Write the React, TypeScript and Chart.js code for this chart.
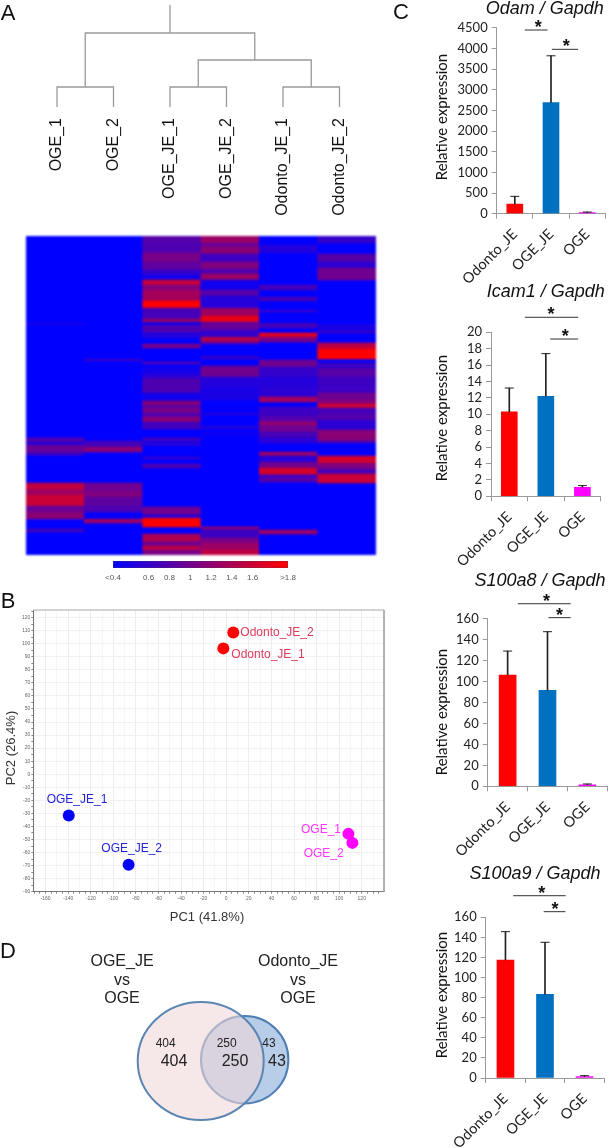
import React, { useEffect, useRef } from "react";
import { Chart, registerables } from "chart.js";

Chart.register(...registerables);

/* ---------- data ---------- */
const sampleNames = ["OGE_1", "OGE_2", "OGE_JE_1", "OGE_JE_2", "Odonto_JE_1", "Odonto_JE_2"];
const leafPositions = [1, 2, 3, 4, 5, 6];
const dendroBranches = [
  [[1, 0], [1, 20], [2, 20], [2, 0]],
  [[3, 0], [3, 20], [4, 20], [4, 0]],
  [[5, 0], [5, 20], [6, 20], [6, 0]],
  [[3.5, 20], [3.5, 47], [5.5, 47], [5.5, 20]],
  [[1.5, 20], [1.5, 74], [4.5, 74], [4.5, 47]],
  [[3, 74], [3, 102]],
];

// each stripe: [first row, last row, expression]
const stripesOGE1 = [[0, 319, 0.4], [87, 88, 0.6], [202, 206, 0.9], [206, 209, 0.6], [209, 216, 1.0], [216, 219, 0.8], [247, 254, 1.5], [254, 259, 1.3], [259, 270, 1.55], [270, 276, 1.0], [276, 283, 1.2], [293, 296, 0.8]];
const stripesOGE2 = [[0, 319, 0.4], [123, 125, 0.7], [205, 211, 0.8], [211, 216, 1.2], [247, 256, 1.05], [256, 261, 1.15], [261, 270, 0.95], [270, 276, 0.85], [283, 287, 1.3]];
const stripesOGEJE1 = [[0, 319, 0.4], [0, 6, 0.9], [6, 17, 0.85], [17, 26, 1.1], [26, 34, 0.95], [34, 39, 0.7], [39, 44, 0.5], [44, 49, 1.55], [49, 54, 1.15], [54, 65, 1.35], [65, 72, 1.8], [72, 83, 0.8], [83, 86, 1.3], [89, 97, 0.85], [99, 101, 0.7], [108, 112, 1.1], [126, 128, 0.9], [131, 137, 0.5], [137, 142, 0.6], [142, 157, 0.85], [157, 165, 0.5], [165, 169, 1.2], [169, 172, 0.9], [172, 177, 1.1], [177, 181, 0.85], [181, 186, 1.2], [187, 193, 0.8], [202, 205, 0.8], [207, 209, 0.7], [221, 223, 0.7], [228, 232, 0.85], [271, 279, 1.05], [279, 282, 0.5], [282, 291, 1.8], [298, 306, 1.4], [306, 310, 1.0], [310, 314, 1.5], [314, 319, 1.1]];
const stripesOGEJE2 = [[0, 319, 0.4], [0, 7, 1.3], [7, 11, 1.0], [11, 18, 1.2], [18, 26, 0.75], [26, 33, 1.15], [33, 38, 0.85], [38, 44, 1.3], [44, 54, 0.5], [54, 60, 0.9], [60, 71, 0.6], [72, 80, 1.3], [80, 86, 1.7], [87, 94, 1.0], [94, 100, 0.7], [101, 106, 1.45], [106, 108, 0.9], [120, 123, 0.7], [130, 141, 1.05], [141, 151, 0.6], [151, 164, 0.55], [177, 179, 0.6], [190, 193, 0.6], [197, 199, 0.5], [291, 293, 1.4], [293, 302, 0.75], [302, 307, 1.1], [307, 314, 1.3], [314, 319, 1.5]];
const stripesOdonto1 = [[0, 319, 0.4], [9, 17, 0.6], [49, 54, 0.8], [61, 65, 0.8], [74, 76, 0.7], [87, 92, 0.8], [97, 101, 1.7], [101, 106, 1.1], [124, 131, 1.05], [131, 141, 0.7], [141, 151, 0.6], [151, 161, 0.65], [161, 166, 1.35], [171, 181, 0.75], [181, 186, 0.9], [186, 189, 1.3], [189, 196, 1.05], [196, 202, 0.8], [202, 207, 0.65], [216, 220, 1.3], [220, 226, 0.6], [226, 232, 1.05], [232, 239, 1.6], [239, 241, 0.6], [241, 246, 0.9], [294, 298, 1.3]];
const stripesOdonto2 = [[0, 319, 0.4], [0, 7, 0.7], [18, 26, 0.9], [26, 32, 0.65], [32, 44, 1.05], [89, 92, 0.6], [94, 97, 0.7], [107, 113, 1.5], [113, 123, 1.85], [127, 131, 0.75], [132, 141, 0.9], [141, 157, 0.75], [157, 164, 1.05], [164, 168, 1.15], [168, 172, 1.6], [172, 179, 0.8], [179, 184, 0.9], [184, 194, 0.65], [194, 205, 1.2], [205, 207, 0.8], [220, 227, 1.6], [227, 233, 1.15], [233, 238, 0.8], [238, 247, 1.55]];
const heatmapColumns = [stripesOGE1, stripesOGE2, stripesOGEJE1, stripesOGEJE2, stripesOdonto1, stripesOdonto2];

const legendTickValues = [0.257, 0.6, 0.8, 1, 1.2, 1.4, 1.6, 1.94];
const legendTickLabels = ["<0.4", "0.6", "0.8", "1", "1.2", "1.4", "1.6", ">1.8"];

const pcaRed = [{ x: -2.6, y: 96.4 }, { x: 6.2, y: 108.6 }];
const pcaBlue = [{ x: -139.5, y: -31.7 }, { x: -86.5, y: -69.4 }];
const pcaMagenta = [{ x: 108.2, y: -45.7 }, { x: 111.7, y: -52.6 }];

const vennOnlyA = 404;
const vennBoth = 250;
const vennOnlyB = 43;

const barCategories = ["Odonto_JE", "OGE_JE", "OGE"];
const odamMeans = [230, 2690, 30];
const odamUpper = [420, 3820, 40];
const icam1Means = [10.3, 12.2, 1.1];
const icam1Upper = [13.2, 17.4, 1.3];
const s100a8Means = [106.2, 91.6, 1.5];
const s100a8Upper = [129.1, 147.6, 2.2];
const s100a9Means = [117.5, 83.3, 1.3];
const s100a9Upper = [145.7, 135.1, 2.3];
const odamSig = [{ from: 0.414, to: 1.36, star: 0.975, y: 4444 }, { from: 1.536, to: 2.624, star: 2.127, y: 3977 }];
const icam1Sig = [{ from: 0.637, to: 2.825, star: 1.715, y: 21.83 }, { from: 1.676, to: 2.825, star: 2.3, y: 19.18 }];
const s100a8Sig = [{ from: 0.384, to: 2.373, star: 1.462, y: 174.3 }, { from: 1.537, to: 2.373, star: 1.95, y: 161 }];
const s100a9Sig = [{ from: 0.293, to: 2.284, star: 1.381, y: 181.5 }, { from: 1.45, to: 2.276, star: 1.875, y: 165.6 }];

/* ---------- helpers ---------- */
const SANS = '"Liberation Sans", Arial, sans-serif';
const LATO = 'Lato, "Open Sans", sans-serif';

const fixHeight = (h: number) => (s: any) => {
  s.height = h;
  s.paddingLeft = s.paddingRight = s.paddingTop = s.paddingBottom = 0;
};
const fixWidth = (w: number) => (s: any) => {
  s.width = w;
  s.paddingLeft = s.paddingRight = s.paddingTop = s.paddingBottom = 0;
};

const baseOptions = (padding: any) => ({
  responsive: false,
  animation: false as const,
  devicePixelRatio: 1,
  layout: { padding, autoPadding: false },
  plugins: { legend: { display: false }, tooltip: { enabled: false }, title: { display: false } },
});

const exprColor = (v: number) => {
  const t = Math.max(0, Math.min(1, (v - 0.4) / 1.4));
  const r = t <= 0.8 ? 0.95 * t : 0.76 + (t - 0.8) * 1.2;
  return `rgb(${Math.round(255 * r)},0,${Math.round(255 * (1 - r))})`;
};

function dendrogramConfig(w: number, h: number) {
  return {
    type: "scatter",
    data: {
      datasets: dendroBranches.map((b) => ({
        data: b.map(([x, y]) => ({ x, y })),
        showLine: true,
        borderColor: "#9a9a9a",
        borderWidth: 1.3,
        pointRadius: 0,
        tension: 0,
        clip: false,
      })),
    },
    options: {
      ...baseOptions({ top: 5, left: 0, right: 0, bottom: 0 }),
      scales: {
        x: {
          type: "linear",
          min: 1 - 57 / 56.5,
          max: 1 + (w - 57) / 56.5,
          grid: { display: false, drawTicks: false },
          border: { display: false },
          afterBuildTicks: (s: any) => { s.ticks = leafPositions.map((value) => ({ value })); },
          afterFit: fixHeight(h - 107),
          ticks: {
            autoSkip: false,
            minRotation: 90,
            maxRotation: 90,
            padding: 11,
            color: "#111",
            font: { family: SANS, size: 16 },
            callback: (v: number) => sampleNames[Math.round(v) - 1],
          },
        },
        y: { display: false, min: 0, max: 102 },
      },
    },
  };
}

function heatmapConfig() {
  const points: any[] = [];
  const colors: string[] = [];
  heatmapColumns.forEach((col, i) =>
    col.forEach(([a, b, v]) => {
      points.push({ x: sampleNames[i], y: [a, b] });
      colors.push(exprColor(v));
    })
  );
  return {
    type: "bar",
    data: {
      labels: sampleNames,
      datasets: [{ data: points, backgroundColor: colors, borderWidth: 0, barPercentage: 1, categoryPercentage: 1 }],
    },
    options: {
      ...baseOptions(0),
      scales: {
        x: { display: false },
        y: { display: false, reverse: true, min: 0, max: 319 },
      },
    },
  };
}

function legendConfig() {
  return {
    type: "bar",
    data: {
      labels: ["scale"],
      datasets: [
        {
          data: [[legendTickValues[0], legendTickValues[legendTickValues.length - 1]]],
          barPercentage: 1,
          categoryPercentage: 1,
          borderWidth: 0.6,
          borderColor: "#444",
          borderSkipped: false,
          backgroundColor: (ctx: any) => {
            const area = ctx.chart.chartArea;
            if (!area) return "#0000ff";
            const g = ctx.chart.ctx.createLinearGradient(area.left, 0, area.right, 0);
            g.addColorStop(0, "#0000ff");
            g.addColorStop(1, "#ff0000");
            return g;
          },
        },
      ],
    },
    options: {
      ...baseOptions({ top: 6, left: 13, right: 12, bottom: 0 }),
      indexAxis: "y",
      scales: {
        x: {
          type: "linear",
          min: legendTickValues[0],
          max: legendTickValues[legendTickValues.length - 1],
          grid: { display: false, drawTicks: false },
          border: { display: false },
          afterBuildTicks: (s: any) => { s.ticks = legendTickValues.map((value) => ({ value })); },
          afterFit: fixHeight(17),
          ticks: {
            autoSkip: false,
            maxRotation: 0,
            padding: 5,
            color: "#555",
            font: { family: SANS, size: 8 },
            callback: (_v: number, i: number) => legendTickLabels[i],
          },
        },
        y: { display: false },
      },
    },
  };
}

function pcaConfig() {
  const dot = (data: any[], color: string) => ({
    data,
    backgroundColor: color,
    borderWidth: 0,
    pointRadius: 6,
  });
  const xMin = -170.9, xMax = 139.7, yMin = -90, yMax = 125.8;
  return {
    type: "scatter",
    data: {
      datasets: [
        dot(pcaRed, "#ff0000"),
        dot(pcaBlue, "#0000ff"),
        dot(pcaMagenta, "#ff00ff"),
        {
          data: [{ x: xMin, y: yMax }, { x: xMax, y: yMax }, { x: xMax, y: yMin }],
          showLine: true,
          borderColor: "#a8a8a8",
          borderWidth: 1,
          pointRadius: 0,
          clip: false,
        },
      ],
    },
    options: {
      ...baseOptions({ top: 10, left: 0, right: 16, bottom: 0 }),
      scales: {
        x: {
          type: "linear",
          min: xMin,
          max: xMax,
          afterFit: fixHeight(18.3),
          border: { color: "#777" },
          afterBuildTicks: (s: any) => {
            const t = [];
            for (let v = -170; v <= 135; v += 5) t.push({ value: v });
            s.ticks = t;
          },
          grid: {
            tickLength: 2,
            tickColor: "#888",
            color: (c: any) => (c.tick.value % 20 === 0 ? "#ececec" : c.tick.value % 10 === 0 ? "#f6f6f6" : "rgba(0,0,0,0)"),
          },
          ticks: {
            autoSkip: false,
            maxRotation: 0,
            padding: 2,
            color: "#666",
            font: { family: SANS, size: 5 },
            callback: (v: number) => (v % 20 === 0 ? String(v) : ""),
          },
        },
        y: {
          type: "linear",
          min: yMin,
          max: yMax,
          afterFit: fixWidth(33.3),
          border: { color: "#777" },
          afterBuildTicks: (s: any) => {
            const t = [];
            for (let v = -90; v <= 125; v += 5) t.push({ value: v });
            s.ticks = t;
          },
          grid: {
            tickLength: 2,
            tickColor: "#888",
            color: (c: any) => (c.tick.value % 10 === 0 ? "#f1f1f1" : "rgba(0,0,0,0)"),
          },
          ticks: {
            autoSkip: false,
            padding: 1,
            color: "#666",
            font: { family: SANS, size: 5 },
            callback: (v: number) => (v % 10 === 0 ? String(v) : ""),
          },
        },
      },
    },
  };
}

const vennSquash = {
  id: "vennSquash",
  beforeDatasetDraw(chart: any, args: any) {
    if (args.index !== 0) return;
    const p = chart.getDatasetMeta(0).data[0];
    const c = chart.ctx;
    c.save();
    c.translate(p.x, p.y);
    c.scale(1, 59 / 63);
    c.translate(-p.x, -p.y);
  },
  afterDatasetDraw(chart: any, args: any) {
    if (args.index === 0) chart.ctx.restore();
  },
};

function vennConfig() {
  return {
    type: "bubble",
    data: {
      datasets: [
        {
          label: "OGE_JE vs OGE",
          data: [{ x: 80.7, y: 71, r: 63 }],
          backgroundColor: "rgba(240,215,215,0.58)",
          borderColor: "#5b85b3",
          borderWidth: 2,
          clip: false,
        },
        {
          label: "Odonto_JE vs OGE",
          data: [{ x: 124.7, y: 69.7, r: 43.7 }],
          backgroundColor: "#b8cde8",
          borderColor: "#4f7fb5",
          borderWidth: 2,
          clip: false,
        },
      ],
    },
    options: {
      ...baseOptions(0),
      scales: {
        x: { display: false, type: "linear", min: 0, max: 180 },
        y: { display: false, type: "linear", reverse: true, min: 0, max: 140 },
      },
    },
    plugins: [vennSquash],
  };
}

const sigStarPlugin = {
  id: "sigStars",
  afterDatasetsDraw(chart: any, _a: any, opts: any) {
    const c = chart.ctx;
    c.save();
    c.fillStyle = "#111";
    c.font = `bold 18px ${SANS}`;
    c.textAlign = "center";
    c.textBaseline = "alphabetic";
    (opts.items || []).forEach((s: any) => {
      const x = chart.scales.xs.getPixelForValue(s.star);
      const y = chart.scales.y.getPixelForValue(s.y);
      c.fillText("*", x, y + 3);
    });
    c.restore();
  },
};

function barConfig(p: any) {
  const fills = ["#ff0000", "#0070c0", "#ff00ff"];
  return {
    type: "bar",
    data: {
      labels: barCategories,
      datasets: [
        ...p.sig.map((s: any) => ({
          type: "line",
          xAxisID: "xs",
          data: [{ x: s.from, y: s.y }, { x: s.to, y: s.y }],
          borderColor: "#333",
          borderWidth: 1,
          pointRadius: 0,
          clip: false,
        })),
        {
          type: "line",
          data: p.upper,
          showLine: false,
          pointStyle: "line",
          pointRadius: 4.5,
          pointBorderWidth: 1,
          pointBorderColor: "#222",
          clip: false,
        },
        {
          data: p.means.map((m: number, i: number) => [m, p.upper[i]]),
          backgroundColor: "#222",
          barThickness: 1,
          grouped: false,
          borderWidth: 0,
        },
        {
          data: p.means,
          backgroundColor: fills,
          barThickness: p.barWidth,
          grouped: false,
          borderWidth: 0,
        },
      ],
    },
    options: {
      ...baseOptions({ top: p.padTop, left: 0, right: p.padRight, bottom: 0 }),
      plugins: {
        legend: { display: false },
        tooltip: { enabled: false },
        sigStars: { items: p.sig },
      },
      scales: {
        x: {
          type: "category",
          offset: true,
          afterFit: fixHeight(p.axisH),
          border: { color: "#9a9a9a" },
          grid: { offset: true, drawOnChartArea: false, tickLength: 5, tickColor: "#9a9a9a" },
          ticks: {
            autoSkip: false,
            minRotation: 45,
            maxRotation: 45,
            padding: 7,
            color: "#222",
            font: { family: LATO, size: 14.5 },
          },
        },
        xs: { type: "linear", display: false, min: 0, max: 3 },
        y: {
          min: 0,
          max: p.max,
          afterFit: fixWidth(p.axisW),
          border: { color: "#9a9a9a" },
          grid: { drawOnChartArea: false, tickLength: 5, tickColor: "#9a9a9a" },
          ticks: {
            stepSize: p.step,
            autoSkip: false,
            padding: 4,
            color: "#222",
            font: { family: LATO, size: 13 },
            callback: (v: number) => String(v),
          },
        },
      },
    },
    plugins: [sigStarPlugin],
  };
}

const barPanels = [
  { rect: [410, 0, 198, 285], means: odamMeans, upper: odamUpper, sig: odamSig, max: 4500, step: 500, barWidth: 16, padTop: 27.7, padRight: 2.7, axisW: 86.7, axisH: 71.3 },
  { rect: [410, 300, 198, 275], means: icam1Means, upper: icam1Upper, sig: icam1Sig, max: 20, step: 2, barWidth: 16, padTop: 32.3, padRight: 7.3, axisW: 81, axisH: 78.7 },
  { rect: [410, 590, 198, 280], means: s100a8Means, upper: s100a8Upper, sig: s100a8Sig, max: 160, step: 20, barWidth: 17, padTop: 28.7, padRight: 0.7, axisW: 77.7, axisH: 83.7 },
  { rect: [410, 885, 198, 263], means: s100a9Means, upper: s100a9Upper, sig: s100a9Sig, max: 160, step: 20, barWidth: 17, padTop: 32.3, padRight: 3.7, axisW: 75.7, axisH: 70 },
];

const panels: any[] = [
  { rect: [0, 0, 400, 230], make: () => dendrogramConfig(400, 230), blur: 0.3 },
  { rect: [26, 236, 350, 319], make: heatmapConfig, blur: 0.8 },
  { rect: [100, 555, 200, 30], make: legendConfig, blur: 0.4 },
  { rect: [0, 600, 400, 310], make: pcaConfig, blur: 0.3 },
  { rect: [120, 990, 180, 140], make: vennConfig, blur: 0.3 },
  ...barPanels.map((p) => ({ rect: p.rect, make: () => barConfig(p), blur: 0.3 })),
];

const textLabels: any[] = [
  { t: "A", x: 8, y: 13, f: `22px ${SANS}`, c: "#111" },
  { t: "B", x: 8, y: 601, f: `22px ${SANS}`, c: "#111" },
  { t: "C", x: 401, y: 12, f: `22px ${SANS}`, c: "#111" },
  { t: "D", x: 8, y: 951, f: `22px ${SANS}`, c: "#111" },
  { t: "Odam / Gapdh", x: 544.7, y: 8, f: `italic 18px ${SANS}`, c: "#111" },
  { t: "Icam1 / Gapdh", x: 545.7, y: 291, f: `italic 18px ${SANS}`, c: "#111" },
  { t: "S100a8 / Gapdh", x: 540, y: 580, f: `italic 18px ${SANS}`, c: "#111" },
  { t: "S100a9 / Gapdh", x: 535, y: 873, f: `italic 18px ${SANS}`, c: "#111" },
  { t: "Relative expression", x: 441, y: 117, r: -90, f: `15px ${LATO}`, c: "#111" },
  { t: "Relative expression", x: 441, y: 418, r: -90, f: `15px ${LATO}`, c: "#111" },
  { t: "Relative expression", x: 441, y: 712, r: -90, f: `15px ${LATO}`, c: "#111" },
  { t: "Relative expression", x: 441, y: 995, r: -90, f: `15px ${LATO}`, c: "#111" },
  { t: "PC1 (41.8%)", x: 207, y: 916, f: `13px ${SANS}`, c: "#333" },
  { t: "PC2 (26.4%)", x: 10, y: 748, r: -90, f: `13px ${SANS}`, c: "#333" },
  { t: "Odonto_JE_2", x: 277, y: 631.7, f: `12px ${SANS}`, c: "#e03a5c" },
  { t: "Odonto_JE_1", x: 268, y: 654, f: `12px ${SANS}`, c: "#e03a5c" },
  { t: "OGE_JE_1", x: 77, y: 799.3, f: `12px ${SANS}`, c: "#2222dd" },
  { t: "OGE_JE_2", x: 131.7, y: 847.7, f: `12px ${SANS}`, c: "#2222dd" },
  { t: "OGE_1", x: 321, y: 828.7, f: `12px ${SANS}`, c: "#ff33ff" },
  { t: "OGE_2", x: 323.7, y: 852.7, f: `12px ${SANS}`, c: "#ff33ff" },
  { t: "OGE_JE", x: 122, y: 961, f: `16px ${SANS}`, c: "#222" },
  { t: "vs", x: 122, y: 980, f: `16px ${SANS}`, c: "#222" },
  { t: "OGE", x: 122, y: 998, f: `16px ${SANS}`, c: "#222" },
  { t: "Odonto_JE", x: 298, y: 961, f: `16px ${SANS}`, c: "#222" },
  { t: "vs", x: 298, y: 980, f: `16px ${SANS}`, c: "#222" },
  { t: "OGE", x: 298, y: 998, f: `16px ${SANS}`, c: "#222" },
  { t: String(vennOnlyA), x: 165.7, y: 1043, f: `12px ${SANS}`, c: "#222" },
  { t: String(vennOnlyA), x: 174, y: 1061, f: `16px ${SANS}`, c: "#222" },
  { t: String(vennBoth), x: 226.7, y: 1043, f: `12px ${SANS}`, c: "#222" },
  { t: String(vennBoth), x: 235, y: 1061, f: `16px ${SANS}`, c: "#222" },
  { t: String(vennOnlyB), x: 269, y: 1043, f: `12px ${SANS}`, c: "#222" },
  { t: String(vennOnlyB), x: 277, y: 1061, f: `16px ${SANS}`, c: "#222" },
];

function Panel({ rect, make, blur }: any) {
  const ref = useRef<HTMLCanvasElement>(null);
  useEffect(() => {
    const chart = new Chart(ref.current as any, make());
    return () => chart.destroy();
  }, []);
  const [left, top, width, height] = rect;
  return (
    <canvas
      ref={ref}
      width={width}
      height={height}
      style={{ position: "absolute", left, top, width, height, filter: `blur(${blur}px)` }}
    />
  );
}

export default function App() {
  return (
    <div style={{ position: "absolute", left: 0, top: 0, width: 608, height: 1148, overflow: "hidden", background: "#fff" }}>
      {panels.map((p, i) => (
        <Panel key={i} {...p} />
      ))}
      {textLabels.map((l, i) => (
        <div
          key={i}
          style={{
            position: "absolute",
            left: l.x,
            top: l.y,
            font: l.f,
            color: l.c,
            whiteSpace: "nowrap",
            lineHeight: 1,
            transform: `translate(-50%,-50%) rotate(${l.r || 0}deg)`,
          }}
        >
          {l.t}
        </div>
      ))}
    </div>
  );
}
